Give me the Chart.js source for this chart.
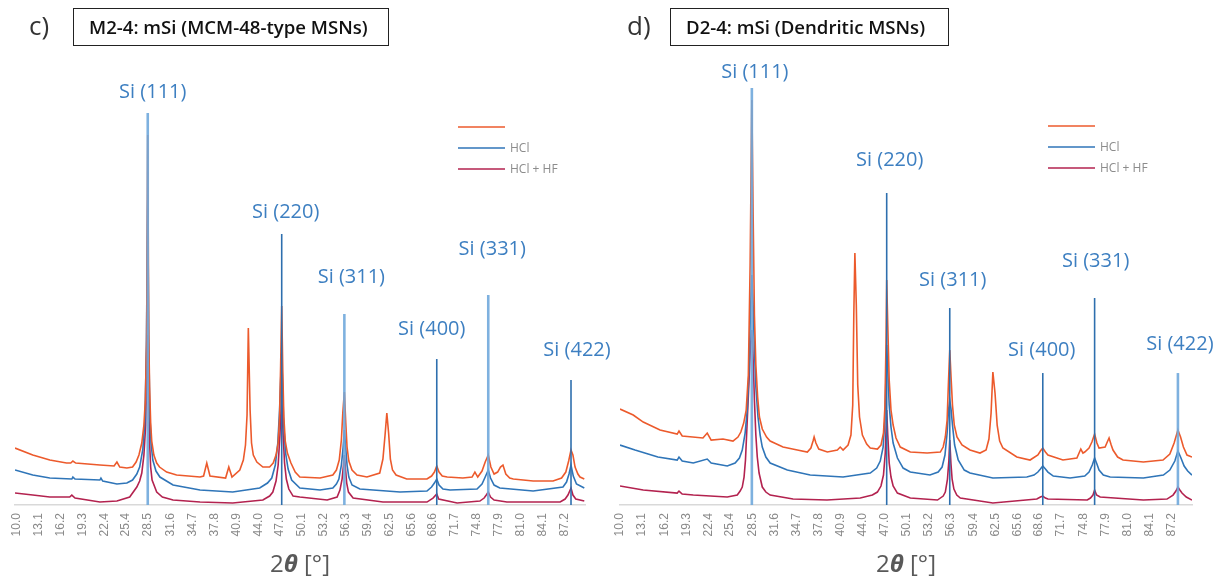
<!DOCTYPE html>
<html>
<head>
<meta charset="utf-8">
<script src="https://cdn.jsdelivr.net/npm/chart.js@4/dist/chart.umd.min.js"></script>
<style>
  html, body { margin: 0; padding: 0; background: #fff; }
  #wrap { position: relative; width: 1222px; height: 583px; overflow: hidden; }
  .panel { position: absolute; top: 0; width: 611px; height: 583px; }
  .panel canvas { position: absolute; left: 0; top: 0; }
  .letter { position: absolute; top: 8px; font-family: 'Open Sans', sans-serif; font-size: 26px; line-height: 34px; color: #333; }
  .tbox { position: absolute; top: 8px; height: 38px; box-sizing: border-box; border: 1px solid #222;
          font-family: 'Open Sans', sans-serif; font-weight: 600; font-size: 18.6px; line-height: 35px; color: #111;
          padding-left: 15px; white-space: nowrap; }
</style>
</head>
<body>
<div id="wrap">
  <div class="panel" style="left:0">
    <canvas id="chartM2" width="611" height="583"></canvas>
    <div class="letter" style="left:29px">c)</div>
    <div class="tbox" style="left:73px;width:316px">M2-4: mSi (MCM-48-type MSNs)</div>
  </div>
  <div class="panel" style="left:611px">
    <canvas id="chartD2" width="611" height="583"></canvas>
    <div class="letter" style="left:16px">d)</div>
    <div class="tbox" style="left:59px;width:279px">D2-4: mSi (Dendritic MSNs)</div>
  </div>
</div>
<script>
// 2θ axis labels
const tickLabels = ['10.0','13.1','16.2','19.3','22.4','25.4','28.5','31.6','34.7','37.8','40.9','44.0','47.0',
                    '50.1','53.2','56.3','59.4','62.5','65.6','68.6','71.7','74.8','77.9','81.0','84.1','87.2'];

// Silicon reflections and their reference stick heights (a.u.)
const siPlanes = ['Si (111)', 'Si (220)', 'Si (311)', 'Si (400)', 'Si (331)', 'Si (422)'];
const siPositions = [28.44, 47.30, 56.12, 69.13, 76.38, 88.03];
const siSticksM2 = [392, 271, 191, 146, 210, 125];
const siSticksD2 = [417, 312, 197, 132, 207, 132];

const seriesNames = ['', 'HCl', 'HCl + HF'];

// M2-4 patterns: [2θ, intensity (a.u., offset)]
const m2Raw = [[9.75,57],[12.25,50],[14.65,45],[17.0,42],[17.6,42],[17.9,44],[18.3,42],[21.7,40],[23.7,39],[24.1,43],[24.5,38],
  [25.5,37],[26.3,38],[26.8,43],[27.2,50],[27.6,62],[27.9,80],[28.1,105],[28.28,165],[28.44,370],[28.58,170],[28.7,118],[28.85,82],
  [29.0,64],[29.3,50],[29.7,42],[30.1,38],[31.1,33],[32.5,30],[35.8,28],[36.3,29],[36.75,42],[37.2,29],[39.4,27],[39.85,38],[40.3,28],
  [41.4,35],[41.9,45],[42.2,60],[42.42,90],[42.6,177],[42.85,95],[43.05,62],[43.3,50],[43.8,43],[44.65,38],[45.6,38],[46.1,42],
  [46.5,50],[46.8,62],[47.0,88],[47.15,140],[47.3,199],[47.45,135],[47.6,88],[47.8,64],[48.1,52],[48.6,42],[49.2,33],[49.85,28],
  [52.7,27],[54.5,30],[55.0,35],[55.4,45],[55.7,65],[55.9,92],[56.12,113],[56.32,82],[56.5,58],[56.75,44],[57.2,35],[57.9,30],
  [59.3,28],[61.1,32],[61.55,46],[61.85,70],[62.1,92],[62.35,72],[62.6,46],[62.9,35],[63.4,30],[64.9,26],[67.75,26],[68.4,29],
  [68.8,33],[69.13,39],[69.45,33],[69.9,29],[70.6,28],[72.8,27],[74.1,28],[74.5,33],[74.9,28],[75.5,34],[75.95,43],[76.38,50],
  [76.75,38],[77.2,31],[77.7,33],[78.1,38],[78.45,40],[78.85,31],[79.4,27],[79.9,26],[82.7,24],[85.5,24],[86.7,27],[87.3,33],
  [87.7,44],[88.03,55],[88.3,50],[88.6,38],[89.0,31],[89.3,28],[89.9,26]];

const m2Hcl = [[9.75,35],[12.25,30],[14.65,27],[17.75,26],[17.9,28],[18.2,26],[21.7,25],[21.85,27],[22.1,24],[24.1,21],[25.5,22],
  [26.3,25],[26.9,31],[27.3,38],[27.75,56],[28.05,85],[28.25,160],[28.44,305],[28.58,165],[28.72,95],[28.9,62],[29.15,45],[29.6,34],
  [30.15,28],[32.0,20],[35.8,15],[40.4,13],[44.2,17],[45.3,22],[45.9,27],[46.4,40],[46.75,62],[47.0,95],[47.15,125],[47.3,150],
  [47.45,112],[47.6,78],[47.85,52],[48.2,36],[48.7,25],[49.85,17],[52.7,15],[54.5,17],[55.0,21],[55.35,26],[55.7,40],[55.95,58],
  [56.12,75],[56.3,58],[56.5,40],[56.75,28],[57.2,20],[58.3,16],[63.95,13],[67.75,14],[68.4,18],[68.8,22],[69.13,26],[69.45,20],
  [70.0,16],[71.0,15],[74.8,16],[75.5,21],[75.95,28],[76.38,35],[76.7,27],[77.2,20],[78.0,17],[82.7,14],[86.9,18],[87.4,23],
  [87.75,31],[88.03,40],[88.35,29],[88.8,21],[89.9,17]];

const m2HclHf = [[9.75,12],[12.25,10],[14.65,8],[17.45,8],[17.75,10],[18.2,7],[21.7,3],[24.1,4],[25.9,8],[26.9,18],[27.3,24],
  [27.6,32],[27.9,50],[28.15,80],[28.3,125],[28.44,170],[28.56,115],[28.7,62],[28.85,38],[29.05,25],[29.7,13],[30.5,8],[32.0,5],
  [35.8,3],[40.4,2],[44.65,5],[45.6,9],[46.05,13],[46.5,24],[46.8,40],[47.05,70],[47.3,110],[47.5,70],[47.7,42],[47.95,26],
  [48.3,16],[48.9,9],[49.85,8],[53.7,5],[55.1,8],[55.5,15],[55.8,26],[56.0,40],[56.12,50],[56.28,36],[56.45,22],[56.7,13],[57.35,7],
  [61.55,3],[67.75,3],[68.6,7],[69.13,11],[69.4,6],[72.0,2],[75.2,4],[75.8,7],[76.1,10],[76.38,13],[76.7,8],[77.2,5],[79.0,3],
  [86.5,3],[87.2,6],[87.6,10],[88.03,17],[88.3,10],[88.7,6],[89.9,4]];

// D2-4 patterns
const d2Raw = [[10.0,96],[11.85,90],[13.25,83],[15.6,75],[18.0,71],[18.25,74],[18.7,69],[21.6,67],[22.2,72],[22.75,65],[24.4,66],
  [25.8,64],[26.5,68],[26.9,73],[27.3,82],[27.65,95],[27.95,130],[28.2,240],[28.44,405],[28.62,290],[28.8,190],[29.0,140],
  [29.25,108],[29.5,88],[29.9,76],[30.5,68],[31.0,64],[32.8,58],[34.8,55],[36.2,53],[36.7,57],[37.0,64],[37.15,68],[37.4,62],
  [37.8,56],[39.0,53],[40.4,55],[40.8,58],[41.2,55],[41.9,60],[42.3,70],[42.55,100],[42.7,190],[42.85,252],[43.05,200],[43.25,120],
  [43.5,88],[43.9,70],[44.5,61],[45.0,57],[46.0,56],[46.5,60],[46.85,72],[47.05,98],[47.2,160],[47.3,225],[47.45,180],[47.65,125],
  [47.9,95],[48.2,80],[48.6,67],[49.2,58],[50.6,53],[52.95,52],[54.8,53],[55.2,58],[55.5,68],[55.75,85],[55.95,125],[56.12,155],
  [56.3,128],[56.5,100],[56.75,80],[57.13,68],[57.83,60],[58.95,55],[60.35,52],[61.2,55],[61.6,66],[61.9,92],[62.15,133],
  [62.45,112],[62.75,80],[63.1,64],[63.55,57],[65.5,48],[67.35,45],[68.45,50],[68.8,54],[69.13,57],[69.5,53],[69.85,50],[71.95,45],
  [73.9,47],[74.45,56],[74.75,52],[75.0,53],[75.6,57],[76.0,63],[76.38,71],[76.7,62],[77.0,57],[77.85,58],[78.15,63],[78.4,67],
  [78.7,60],[78.95,55],[79.6,48],[80.35,45],[83.2,43],[85.95,45],[86.9,51],[87.5,62],[88.03,75],[88.4,68],[88.8,58],[89.3,50],
  [90.0,48]];

const d2Hcl = [[10.0,60],[12.1,55],[15.3,48],[18.0,45],[18.25,48],[18.7,44],[20.25,42],[22.2,46],[22.75,42],[25.0,39],[26.1,42],
  [26.7,47],[27.1,55],[27.5,72],[27.8,95],[28.05,135],[28.25,195],[28.44,230],[28.62,200],[28.8,155],[29.0,118],[29.3,88],
  [29.6,70],[29.9,58],[30.4,48],[31.0,42],[33.4,35],[36.6,30],[41.2,28],[45.0,32],[45.9,37],[46.4,44],[46.8,58],[47.05,85],
  [47.2,130],[47.3,160],[47.45,135],[47.65,100],[47.9,78],[48.2,62],[48.8,47],[49.6,37],[50.6,33],[53.35,30],[54.5,33],[55.05,38],
  [55.45,50],[55.75,72],[55.95,95],[56.12,105],[56.3,96],[56.5,80],[56.8,60],[57.3,45],[58.15,35],[58.95,32],[62.15,27],[66.9,28],
  [67.9,30],[68.45,33],[68.8,36],[69.13,39],[69.5,36],[69.85,33],[70.6,29],[72.95,27],[75.0,29],[75.6,33],[76.05,40],[76.38,47],
  [76.7,41],[77.0,35],[77.6,30],[78.55,28],[83.2,27],[86.0,30],[86.9,35],[87.6,44],[88.03,54],[88.4,48],[88.9,39],[89.4,34],
  [90.0,30]];

const d2HclHf = [[10.0,19],[13.25,15],[18.0,12],[18.25,14],[18.7,11],[20.25,10],[25.0,8],[26.4,10],[26.8,14],[27.1,18],[27.35,28],
  [27.55,45],[27.8,85],[28.05,125],[28.25,160],[28.44,175],[28.6,150],[28.8,105],[29.0,70],[29.2,48],[29.45,32],[29.9,18],
  [30.4,13],[31.0,10],[34.2,6],[38.95,5],[43.6,7],[45.3,10],[46.0,13],[46.5,19],[46.85,30],[47.1,52],[47.3,95],[47.45,70],
  [47.65,42],[47.9,28],[48.2,19],[48.8,12],[50.6,7],[54.4,5],[55.2,9],[55.5,13],[55.8,26],[56.0,45],[56.12,65],[56.28,42],
  [56.45,26],[56.7,16],[57.1,10],[57.6,7],[62.15,2],[68.3,6],[68.8,8],[69.13,9],[69.5,7],[69.85,6],[75.35,5],[75.8,7],[76.15,10],
  [76.38,15],[76.65,10],[77.15,8],[83.2,5],[86.5,6],[87.35,10],[87.75,14],[88.03,18],[88.3,15],[88.6,12],[89.2,8],[90.0,5]];

// ---- styling ----
const traceColors = ['#ec5a2c', '#2f75b8', '#b3224f'];
const stickLook = {
  light: { color: 'rgba(112,168,219,0.9)', width: 2.6 },
  dark:  { color: '#2e6fae', width: 1.6 }
};
const tickFont = { family: '"Liberation Sans", Arial, sans-serif', size: 12 };

const toXY = arr => arr.map(([x, y]) => ({ x, y }));

// labels above sticks, legend and axis title
const decorPlugin = {
  id: 'xrdDecor',
  afterDraw(chart, args, o) {
    const { ctx, chartArea } = chart;
    const x = chart.scales.x, y = chart.scales.y;
    ctx.save();
    ctx.font = '20px "Open Sans", sans-serif';
    ctx.fillStyle = '#3d7fc1';
    ctx.textAlign = 'center';
    ctx.textBaseline = 'middle';
    siPlanes.forEach((name, i) => {
      const [dx, dy] = o.labelOffsets[i];
      ctx.fillText(name, x.getPixelForValue(siPositions[i]) + dx, y.getPixelForValue(o.sticks[i]) + dy);
    });

    // legend
    const traces = chart.data.datasets.filter(d => d.isTrace);
    ctx.font = '12px "Open Sans", sans-serif';
    ctx.textAlign = 'left';
    traces.forEach((d, i) => {
      const ly = o.legend.y + i * 21;
      ctx.strokeStyle = d.borderColor;
      ctx.lineWidth = 1.6;
      ctx.beginPath();
      ctx.moveTo(o.legend.x, ly);
      ctx.lineTo(o.legend.x + 47, ly);
      ctx.stroke();
      ctx.fillStyle = '#8c8c8c';
      ctx.fillText(d.label, o.legend.x + 52, ly + 1);
    });

    // axis title: 2θ [°]
    const parts = [
      { t: '2', f: '24px "Open Sans", sans-serif' },
      { t: 'θ', f: 'italic bold 24px "Open Sans", sans-serif' },
      { t: ' [°]', f: '24px "Open Sans", sans-serif' }
    ];
    let total = 0;
    parts.forEach(p => { ctx.font = p.f; p.w = ctx.measureText(p.t).width; total += p.w; });
    let cx = (chartArea.left + chartArea.right) / 2 - total / 2;
    const ty = chartArea.bottom + 60;
    ctx.fillStyle = '#595959';
    ctx.textBaseline = 'middle';
    parts.forEach(p => { ctx.font = p.f; ctx.fillText(p.t, cx, ty); cx += p.w; });
    ctx.restore();
  }
};

function makePanel(id, traces, sticks, cfg) {
  const stickSets = siPositions.map((pos, i) => ({
    data: [{ x: pos, y: 0 }, { x: pos, y: sticks[i] }],
    borderColor: stickLook[cfg.stickStyles[i]].color,
    borderWidth: stickLook[cfg.stickStyles[i]].width,
    pointRadius: 0
  }));
  const traceSets = traces.map((t, i) => ({
    label: seriesNames[i],
    isTrace: true,
    data: toXY(t),
    borderColor: traceColors[i],
    borderWidth: 1.6,
    pointRadius: 0,
    tension: 0
  }));
  return new Chart(document.getElementById(id), {
    type: 'line',
    data: { datasets: [...stickSets, ...traceSets] },
    options: {
      responsive: false,
      animation: false,
      events: [],
      layout: { padding: { left: cfg.left, right: cfg.right, top: 55, bottom: 38.6 } },
      plugins: { legend: { display: false }, tooltip: { enabled: false }, xrdDecor: cfg.decor },
      scales: {
        x: {
          type: 'linear',
          min: cfg.min, max: 90,
          afterBuildTicks: s => { s.ticks = tickLabels.map(t => ({ value: Number(t) })); },
          grid: { display: false, drawTicks: false },
          border: { display: true, color: '#d9d9d9', width: 1.5 },
          ticks: {
            autoSkip: false, minRotation: 90, maxRotation: 90, padding: 8,
            color: '#8a8a8a', font: tickFont,
            callback: (v, i) => tickLabels[i]
          }
        },
        y: { display: false, min: 0, max: 450 }
      }
    },
    plugins: [decorPlugin]
  });
}

makePanel('chartM2', [m2Raw, m2Hcl, m2HclHf], siSticksM2, {
  min: 9.75, left: 15, right: 26,
  stickStyles: ['light', 'dark', 'light', 'dark', 'light', 'dark'],
  decor: {
    sticks: siSticksM2,
    labelOffsets: [[5, -21], [4, -22], [7, -37], [-5, -30], [4, -46], [6, -30]],
    legend: { x: 458, y: 127 }
  }
});

makePanel('chartD2', [d2Raw, d2Hcl, d2HclHf], siSticksD2, {
  min: 10, left: 9, right: 30,
  stickStyles: ['light', 'dark', 'dark', 'dark', 'dark', 'light'],
  decor: {
    sticks: siSticksD2,
    labelOffsets: [[3, -16], [3, -33], [3, -28], [-1, -23], [1, -37], [2, -29]],
    legend: { x: 437, y: 126 }
  }
});
</script>
</body>
</html>
